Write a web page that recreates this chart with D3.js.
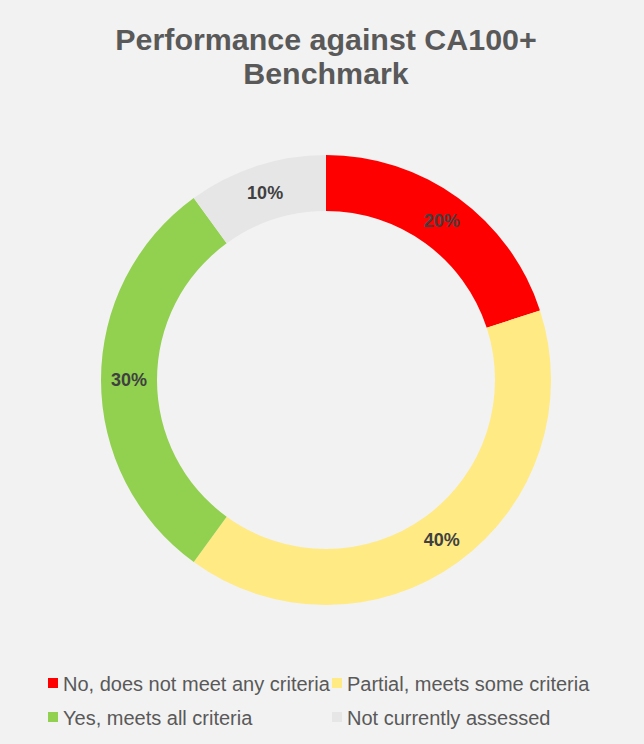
<!DOCTYPE html>
<html>
<head>
<meta charset="utf-8">
<script src="https://cdn.jsdelivr.net/npm/d3@7"></script>
<style>
  html, body { margin: 0; padding: 0; background: #f2f2f2; }
  svg { display: block; font-family: "Liberation Sans", Arial, sans-serif; }
</style>
</head>
<body>
<svg id="chart" width="644" height="744"></svg>
<script>
// chart data
var categories = ["No, does not meet any criteria", "Partial, meets some criteria", "Yes, meets all criteria", "Not currently assessed"];
var values = [20, 40, 30, 10];
var sliceColors = ["#ff0000", "#ffea84", "#92d050", "#e6e6e6"];
var titleLines = ["Performance against CA100+", "Benchmark"];

(function() {
  var W = 644, H = 744;
  var cx = 326, cy = 380;
  var outerR = 225, innerR = 169;

  var svg = d3.select("#chart");

  svg.append("rect")
    .attr("width", W)
    .attr("height", H)
    .attr("fill", "#f2f2f2");

  // title
  svg.append("g").selectAll("text")
    .data(titleLines)
    .enter().append("text")
    .attr("x", cx)
    .attr("y", (d, i) => 50 + i * 34)
    .attr("text-anchor", "middle")
    .attr("font-size", 30.4)
    .attr("font-weight", "bold")
    .attr("fill", "#595959")
    .text(d => d);

  var pie = d3.pie().sort(null).value(d => d);
  var arcs = pie(values);
  var arc = d3.arc().innerRadius(innerR).outerRadius(outerR);

  var g = svg.append("g").attr("transform", "translate(" + cx + "," + cy + ")");

  g.selectAll("path.slice")
    .data(arcs)
    .enter().append("path")
    .attr("class", "slice")
    .attr("d", arc)
    .attr("fill", (d, i) => sliceColors[i]);

  var total = d3.sum(values);
  g.selectAll("text.lbl")
    .data(arcs)
    .enter().append("text")
    .attr("class", "lbl")
    .attr("transform", d => "translate(" + arc.centroid(d) + ")")
    .attr("text-anchor", "middle")
    .attr("dy", "0.36em")
    .attr("font-size", 18)
    .attr("font-weight", "bold")
    .attr("fill", "#404040")
    .text(d => Math.round(d.data / total * 100) + "%");

  // legend, two columns
  var colX = [48, 332];
  var rowY = [691, 725];
  var legend = svg.append("g").selectAll("g")
    .data(categories)
    .enter().append("g")
    .attr("transform", (d, i) => "translate(" + colX[i % 2] + "," + rowY[Math.floor(i / 2)] + ")");

  legend.append("rect")
    .attr("x", 0)
    .attr("y", -13)
    .attr("width", 10)
    .attr("height", 10)
    .attr("fill", (d, i) => sliceColors[i]);

  legend.append("text")
    .attr("x", 15)
    .attr("y", 0)
    .attr("font-size", 20)
    .attr("fill", "#595959")
    .text(d => d);
})();
</script>
</body>
</html>
